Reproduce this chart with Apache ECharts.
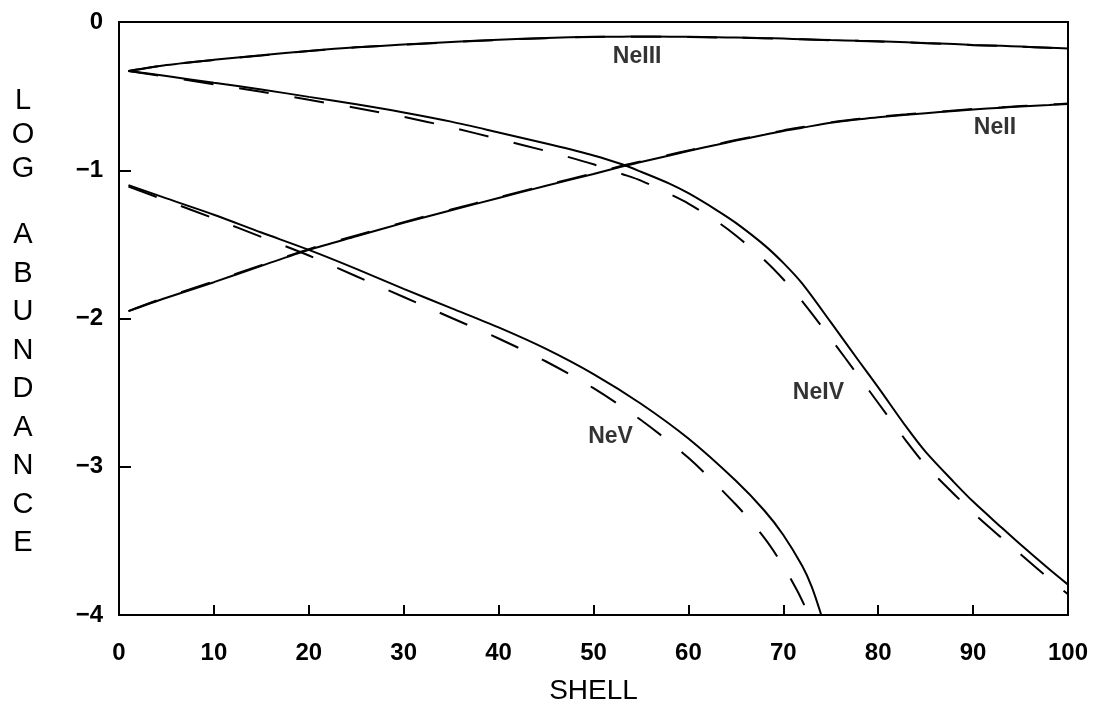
<!DOCTYPE html>
<html>
<head>
<meta charset="utf-8">
<script src="https://cdn.jsdelivr.net/npm/echarts@6/dist/echarts.min.js"></script>
<style>
  html, body { margin: 0; padding: 0; background: #fff; }
  #chart { width: 1093px; height: 714px; }
</style>
</head>
<body>
<div id="chart"></div>
<script>
// shell numbers
var shell = [1, 5, 10, 15, 20, 25, 30, 35, 40, 45, 50, 53, 55, 58, 60, 63, 65, 68, 70, 72, 75, 78, 80, 83, 85, 88, 90, 93, 95, 98, 100];

// log abundances, solid lines
var neIII = [-0.33, -0.29, -0.255, -0.225, -0.195, -0.17, -0.152, -0.135, -0.12, -0.108, -0.1, -0.099, -0.098, -0.099, -0.1, -0.103, -0.105, -0.109, -0.112, -0.116, -0.122, -0.127, -0.13, -0.137, -0.142, -0.149, -0.155, -0.161, -0.166, -0.173, -0.178];
var neII = [-1.95, -1.86, -1.755, -1.645, -1.537, -1.445, -1.355, -1.27, -1.187, -1.105, -1.025, -0.975, -0.945, -0.9, -0.87, -0.828, -0.8, -0.761, -0.735, -0.713, -0.68, -0.656, -0.642, -0.626, -0.615, -0.6, -0.59, -0.578, -0.57, -0.56, -0.553];
var neIV = [-0.33, -0.365, -0.41, -0.455, -0.505, -0.555, -0.61, -0.672, -0.745, -0.82, -0.9, -0.96, -1.01, -1.09, -1.155, -1.27, -1.355, -1.505, -1.625, -1.765, -2.025, -2.29, -2.465, -2.735, -2.9, -3.105, -3.235, -3.41, -3.525, -3.69, -3.795];
var neVShell = [1, 5, 10, 15, 20, 25, 30, 35, 40, 45, 50, 55, 60, 65, 68, 70, 72, 73, 74];
var neV = [-1.1, -1.19, -1.3, -1.42, -1.537, -1.665, -1.8, -1.93, -2.06, -2.205, -2.375, -2.575, -2.81, -3.095, -3.295, -3.46, -3.67, -3.81, -4.0];

// dashed lines
var neIIIDash = [-0.33, -0.29, -0.256, -0.226, -0.196, -0.171, -0.153, -0.136, -0.121, -0.109, -0.101, -0.1, -0.099, -0.1, -0.101, -0.104, -0.106, -0.11, -0.113, -0.117, -0.123, -0.128, -0.131, -0.138, -0.143, -0.15, -0.156, -0.162, -0.167, -0.174, -0.179];
var neIIDash = [-1.95, -1.855, -1.75, -1.64, -1.532, -1.44, -1.35, -1.265, -1.182, -1.1, -1.02, -0.97, -0.94, -0.895, -0.866, -0.824, -0.796, -0.757, -0.731, -0.709, -0.677, -0.653, -0.639, -0.623, -0.612, -0.597, -0.587, -0.575, -0.567, -0.557, -0.55];
var neIVDash = [-0.33, -0.37, -0.42, -0.47, -0.525, -0.58, -0.64, -0.71, -0.79, -0.87, -0.96, -1.025, -1.07, -1.16, -1.225, -1.345, -1.44, -1.605, -1.735, -1.885, -2.135, -2.395, -2.57, -2.83, -2.99, -3.185, -3.31, -3.48, -3.59, -3.755, -3.86];
var neVDashShell = [1, 5, 10, 15, 20, 25, 30, 35, 40, 45, 50, 55, 60, 65, 68, 70, 71.5, 72.7];
var neVDash = [-1.11, -1.205, -1.325, -1.45, -1.575, -1.715, -1.855, -1.995, -2.135, -2.29, -2.47, -2.685, -2.94, -3.255, -3.48, -3.67, -3.84, -4.0];

// curve labels
var labelNames = ['NeIII', 'NeII', 'NeIV', 'NeV'];
var labelX = [54.6, 92.3, 73.7, 51.8];
var labelY = [-0.236, -0.715, -2.5, -2.8];

var yTitleTop = ['L', 'O', 'G'];
var yTitleBottom = ['A', 'B', 'U', 'N', 'D', 'A', 'N', 'C', 'E'];

function pairs(xs, ys) {
    var out = [];
    for (var i = 0; i < xs.length; i++) out.push([xs[i], ys[i]]);
    return out;
}

function lineSeries(xs, ys, dashed) {
    return {
        type: 'line',
        data: pairs(xs, ys),
        symbol: 'none',
        smooth: 0.3,
        silent: true,
        lineStyle: {
            color: '#000',
            width: 2,
            type: dashed ? [30, 26] : 'solid'
        }
    };
}

var chart = echarts.init(document.getElementById('chart'));

var titleFont = '29px "Liberation Sans"';
var titleGraphics = [];
yTitleTop.forEach(function (ch, i) {
    titleGraphics.push({ type: 'text', x: 23, y: 101 + i * 34, style: { text: ch, fill: '#000', font: titleFont, align: 'center', verticalAlign: 'middle' } });
});
yTitleBottom.forEach(function (ch, i) {
    titleGraphics.push({ type: 'text', x: 23, y: 235 + i * 38.5, style: { text: ch, fill: '#000', font: titleFont, align: 'center', verticalAlign: 'middle' } });
});

var option = {
    animation: false,
    backgroundColor: '#fff',
    grid: {
        left: 119, right: 25, top: 22, bottom: 99,
        show: true, borderColor: '#000', borderWidth: 2
    },
    xAxis: {
        type: 'value', min: 0, max: 100, interval: 10,
        name: 'SHELL', nameLocation: 'middle', nameGap: 62,
        nameTextStyle: { fontFamily: 'Liberation Sans', fontSize: 28, color: '#000' },
        axisLine: { show: false, onZero: false },
        axisTick: { inside: true, length: 10, lineStyle: { color: '#000', width: 2 } },
        axisLabel: { margin: 26, fontFamily: 'Liberation Sans', fontWeight: 'bold', fontSize: 24, color: '#000' },
        splitLine: { show: false }
    },
    yAxis: {
        type: 'value', min: -4, max: 0, interval: 1,
        axisLine: { show: false, onZero: false },
        axisTick: { inside: true, length: 12, lineStyle: { color: '#000', width: 2 } },
        axisLabel: {
            margin: 16, fontFamily: 'Liberation Sans', fontWeight: 'bold', fontSize: 24, color: '#000',
            formatter: function (v) { return v < 0 ? '\u2212' + Math.abs(v) : String(v); }
        },
        splitLine: { show: false }
    },
    graphic: titleGraphics,
    series: [
        lineSeries(shell, neIII, false),
        lineSeries(shell, neII, false),
        lineSeries(shell, neIV, false),
        lineSeries(neVShell, neV, false),
        lineSeries(shell, neIIIDash, true),
        lineSeries(shell, neIIDash, true),
        lineSeries(shell, neIVDash, true),
        lineSeries(neVDashShell, neVDash, true),
        {
            type: 'scatter',
            data: pairs(labelX, labelY).map(function (p, i) { return { value: p, name: labelNames[i] }; }),
            symbolSize: 0,
            silent: true,
            itemStyle: { color: '#000' },
            label: {
                show: true, position: 'inside', formatter: '{b}',
                fontFamily: 'Liberation Sans', fontWeight: 'bold', fontSize: 23, color: '#000',
                textBorderWidth: 0
            }
        }
    ]
};

chart.setOption(option);

window.addEventListener('resize', function () {
    chart.resize();
});
</script>
</body>
</html>
